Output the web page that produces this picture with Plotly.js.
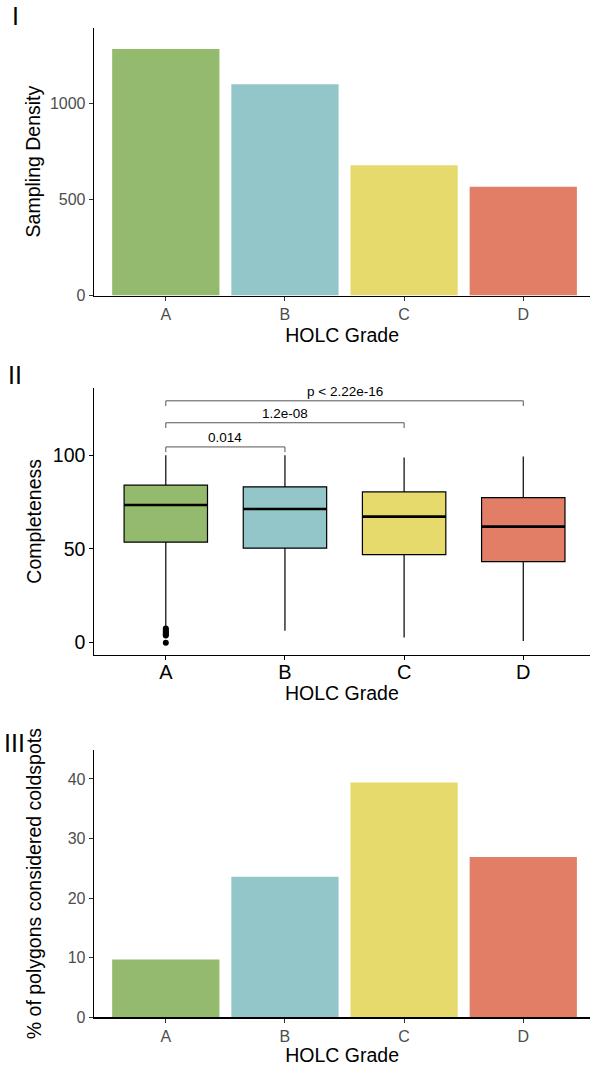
<!DOCTYPE html>
<html>
<head>
<meta charset="utf-8">
<script src="https://cdn.plot.ly/plotly-3.0.1.min.js"></script>
<style>html,body{margin:0;padding:0;background:#fff;overflow:hidden}</style>
</head>
<body>
<div id="chart" style="width:590px;height:1066px"></div>
<script>
// ---- data ----
const grades = ["A", "B", "C", "D"];
const gradeColors = ["#94BB6D", "#93C6C9", "#E6DA6C", "#E27E66"];
const xTitle = "HOLC Grade";

// Panel I: sampling density
const samplingDensity = [1284, 1100, 678, 567];

// Panel II: completeness boxplot statistics
const compQ1 = [53.6, 50.4, 46.9, 43.2];
const compMedian = [73.4, 71.3, 67.2, 61.9];
const compQ3 = [84.0, 83.1, 80.4, 77.4];
const compLow = [8.6, 6.3, 2.7, 0.9];
const compHigh = [100, 100, 98.8, 99.3];
const outlierGrade = ["A", "A", "A", "A", "A", "A", "A"];
const outlierValues = [0, 3.8, 4.5, 5.2, 6.0, 6.8, 7.6];

// Pairwise comparisons
const compFrom = ["A", "A", "A"];
const compTo = ["B", "C", "D"];
const compLabels = ["0.014", "1.2e-08", "p < 2.22e-16"];
const bracketLevel = [104.4, 117.3, 129.0];

// Panel III: % coldspots
const coldspotPct = [9.7, 23.6, 39.4, 26.9];

// ---- build ----
const H = 1066, W = 590;
const font = "Liberation Sans, Arial, sans-serif";
const traces = [];

traces.push({
  type: "bar", x: grades, y: samplingDensity, xaxis: "x", yaxis: "y",
  marker: {color: gradeColors, line: {width: 0}}, width: 0.9, hoverinfo: "x+y"
});

grades.forEach((g, i) => {
  traces.push({
    type: "box", x: [g], xaxis: "x2", yaxis: "y2",
    q1: [compQ1[i]], median: [compMedian[i]], q3: [compQ3[i]],
    lowerfence: [compLow[i]], upperfence: [compHigh[i]],
    fillcolor: gradeColors[i], line: {color: "#000", width: 1.2},
    width: 0.7, whiskerwidth: 0, boxpoints: false, showlegend: false
  });
});
traces.push({
  type: "scatter", mode: "markers", x: outlierGrade, y: outlierValues,
  xaxis: "x2", yaxis: "y2", marker: {color: "#000", size: 6}, showlegend: false
});

traces.push({
  type: "bar", x: grades, y: coldspotPct, xaxis: "x3", yaxis: "y3",
  marker: {color: gradeColors, line: {width: 0}}, width: 0.9
});

const idx = g => grades.indexOf(g);
const shapes = [];
// thicker median lines
grades.forEach((g, i) => {
  shapes.push({type: "line", xref: "x2", yref: "y2", x0: i - 0.35, x1: i + 0.35,
    y0: compMedian[i], y1: compMedian[i], line: {color: "#000", width: 2.6}});
});
const annotations = [];
compFrom.forEach((f, k) => {
  const a = idx(f), b = idx(compTo[k]), yv = bracketLevel[k], drop = 2.8;
  shapes.push({type: "path", xref: "x2", yref: "y2",
    path: `M${a},${yv - drop} L${a},${yv} L${b},${yv} L${b},${yv - drop}`,
    line: {color: "#555", width: 1}});
  annotations.push({xref: "x2", yref: "y2", x: (a + b) / 2, y: yv, text: compLabels[k],
    showarrow: false, yanchor: "bottom", yshift: 0, font: {family: font, size: 13.5, color: "#000"}});
});
// panel tags
[["I", 15, 16], ["II", 15, 375], ["III", 14, 743]].forEach(([t, x, y]) => {
  annotations.push({xref: "paper", yref: "paper", x: x / W, y: 1 - y / H, text: t,
    showarrow: false, xanchor: "center", yanchor: "middle", font: {family: font, size: 25, color: "#000"}});
});
// panel II x title
const xl = 94.3 / W;
annotations.push({xref: "paper", yref: "paper", x: (xl + 1) / 2, y: 1 - 693 / H, text: xTitle,
  showarrow: false, xanchor: "center", yanchor: "middle", font: {family: font, size: 19.5, color: "#000"}});

const pY = (top, bot) => [1 - bot / H, 1 - top / H];
const xBase = (anchor, thick, big) => ({
  anchor: anchor, domain: [xl, 1], type: "category", range: [-0.6, 3.56],
  showline: true, linecolor: "#000", linewidth: thick, ticks: "outside", ticklen: 4,
  tickcolor: big ? "#000" : "#333", tickwidth: 1, showgrid: false, zeroline: false,
  ticklabelstandoff: big ? -5 : 0,
  tickfont: {family: font, size: big ? 20 : 16, color: big ? "#000" : "#4D4D4D"},
  title: big ? {text: ""} : {text: xTitle, font: {family: font, size: 19.5, color: "#000"}, standoff: 6}
});
const yBase = (anchor, dom, range, tv, title, thick, big, standoff) => ({
  anchor: anchor, domain: dom, range: range, tickvals: tv,
  showline: true, linecolor: "#000", linewidth: thick, ticks: "outside", ticklen: 4,
  tickcolor: big ? "#000" : "#333", tickwidth: 1, showgrid: false, zeroline: false,
  tickfont: {family: font, size: big ? 19.5 : 16, color: big ? "#000" : "#4D4D4D"},
  title: {text: title, font: {family: font, size: 19.5, color: "#000"}, standoff: standoff}
});

const layout = {
  width: W, height: H, margin: {l: 0, r: 0, t: 0, b: 0},
  paper_bgcolor: "#fff", plot_bgcolor: "#fff", showlegend: false, boxmode: "overlay",
  font: {family: font},
  xaxis: xBase("y", 1.6, false),
  yaxis: yBase("x", pY(27.7, 295.5), [0, 1395], [0, 500, 1000], "Sampling Density", 1.6, false, 4),
  xaxis2: xBase("y2", 1, true),
  yaxis2: yBase("x2", pY(387.7, 655), [-6.6, 136], [0, 50, 100], "Completeness", 1, true, 6),
  xaxis3: xBase("y3", 1.6, false),
  yaxis3: yBase("x3", pY(750, 1017.3), [0, 44.85], [0, 10, 20, 30, 40], "% of polygons considered coldspots", 1.6, false, 21),
  shapes: shapes, annotations: annotations
};

Plotly.newPlot("chart", traces, layout, {staticPlot: true, displayModeBar: false});
</script>
</body>
</html>
